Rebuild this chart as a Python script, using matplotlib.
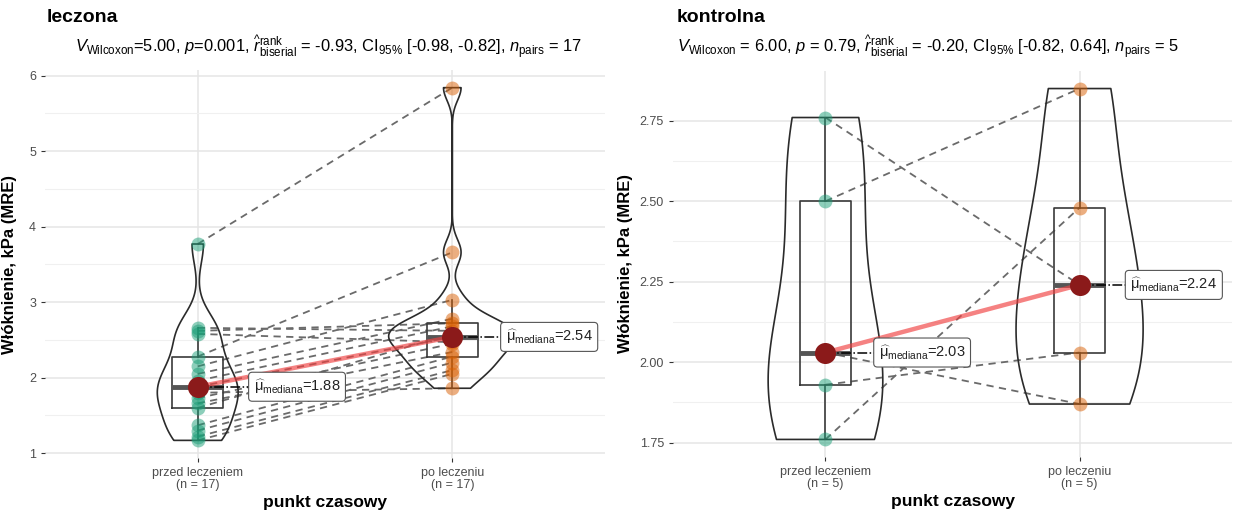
import numpy as np
import matplotlib
matplotlib.use("Agg")
import matplotlib.pyplot as plt

plt.rcParams["font.family"] = ["Liberation Sans", "DejaVu Sans"]
plt.rcParams["mathtext.fontset"] = "custom"
plt.rcParams["mathtext.rm"] = "Liberation Sans"
plt.rcParams["mathtext.it"] = "Liberation Sans:italic"
plt.rcParams["mathtext.bf"] = "Liberation Sans:bold"

# paired measurements (same patient order in both lists)
leczona_przed = [3.77, 2.66, 2.62, 2.58, 2.28, 2.15, 2.05, 1.96, 1.88,
                 1.80, 1.73, 1.66, 1.60, 1.37, 1.30, 1.22, 1.17]
leczona_po = [5.84, 2.62, 2.72, 2.47, 3.66, 3.03, 2.78, 2.68, 2.54,
              1.86, 2.45, 2.34, 2.58, 2.28, 2.20, 2.10, 2.05]

kontrolna_przed = [2.76, 2.50, 2.03, 1.93, 1.76]
kontrolna_po = [2.24, 2.85, 1.87, 2.03, 2.48]

time_points = ["przed leczeniem", "po leczeniu"]
titles = ["leczona", "kontrolna"]
subtitles = [
  r"$V_{\mathrm{Wilcoxon}}$=5.00, $p$=0.001, $\widehat{r}_{\mathrm{biserial}}^{\mathrm{rank}}$ = -0.93, "
  r"CI$_{95\%}$ [-0.98, -0.82], $n_{\mathrm{pairs}}$ = 17",
  r"$V_{\mathrm{Wilcoxon}}$ = 6.00, $p$ = 0.79, $\widehat{r}_{\mathrm{biserial}}^{\mathrm{rank}}$ = -0.20, "
  r"CI$_{95\%}$ [-0.82, 0.64], $n_{\mathrm{pairs}}$ = 5",
]
y_ticks = [[1, 2, 3, 4, 5, 6], [1.75, 2.00, 2.25, 2.50, 2.75]]
y_fmt = ["{:.0f}", "{:.2f}"]

COLORS = ["#1B9E77", "#D95F02"]
TEXT_GREY = "#4D4D4D"


def _nrd0(x: np.ndarray) -> float:
  sd = np.std(x, ddof=1)
  q75, q25 = np.percentile(x, [75, 25])
  lo = min(sd, (q75 - q25) / 1.34)
  return 0.9 * lo * len(x) ** -0.2


def _kde(x: np.ndarray, grid: np.ndarray) -> np.ndarray:
  bw = _nrd0(x)
  z = (grid[:, None] - x[None, :]) / bw
  return np.exp(-0.5 * z ** 2).sum(axis=1) / (len(x) * bw * np.sqrt(2 * np.pi))


def draw_panel(ax, before, after, ticks, fmt, label_offsets):
  groups = [np.asarray(before), np.asarray(after)]
  positions = [1, 2]

  # light grid like ggplot's minimal theme
  ax.set_axisbelow(True)
  for spine in ax.spines.values():
    spine.set_visible(False)
  ax.grid(True, which="major", color="#E5E5E5", lw=1.1)
  ax.grid(True, which="minor", axis="y", color="#F0F0F0", lw=0.8)
  ax.set_yticks(ticks)
  ax.set_yticks([(a + b) / 2 for a, b in zip(ticks[:-1], ticks[1:])], minor=True)
  ax.tick_params(axis="y", which="minor", length=0)
  ax.set_yticklabels([fmt.format(t) for t in ticks])
  ax.tick_params(axis="both", which="major", length=3, width=0.8, color="#333333",
                 labelcolor=TEXT_GREY, labelsize=9)

  # paired lines
  for b, a in zip(before, after):
    ax.plot(positions, [b, a], color="#6A6A6A", lw=1.3, ls=(0, (4, 3)), zorder=2)

  # violins, scaled by area across both groups
  grids = [np.linspace(g.min(), g.max(), 256) for g in groups]
  dens = [_kde(g, gr) for g, gr in zip(groups, grids)]
  dmax = max(d.max() for d in dens)
  for pos, gr, d in zip(positions, grids, dens):
    w = 0.25 * d / dmax
    ax.fill_betweenx(gr, pos - w, pos + w, facecolor="none", edgecolor="#2B2B2B",
                     lw=1.2, zorder=3)

  ax.boxplot(groups, positions=positions, widths=0.2, showfliers=False, showcaps=False,
             patch_artist=False, whis=1.5,
             boxprops=dict(color="#3A3A3A", lw=1.2),
             whiskerprops=dict(color="#3A3A3A", lw=1.2),
             medianprops=dict(color="#555555", lw=3.5),
             zorder=4)

  for pos, g, c in zip(positions, groups, COLORS):
    ax.scatter(np.full(len(g), pos), g, s=100, color=c, alpha=0.5, lw=0, zorder=5)

  medians = [float(np.median(g)) for g in groups]
  ax.plot(positions, medians, color="#F04040", alpha=0.65, lw=3.2, zorder=6,
          solid_capstyle="butt")
  ax.scatter(positions, medians, s=230, color="#8B1A1A", zorder=7, lw=0)

  for pos, m, off in zip(positions, medians, label_offsets):
    ax.plot([pos, pos + off], [m, m], color="black", lw=1.1, ls="-.", zorder=6)
    ax.text(pos + off, m, r"$\widehat{\mathrm{\mu}}_{\mathrm{mediana}}$" + "={:.2f}".format(m),
            ha="left", va="center", fontsize=10.5, color="#222222", zorder=8,
            bbox=dict(boxstyle="round,pad=0.35,rounding_size=0.25", fc="white",
                      ec="#555555", lw=0.8))

  ax.set_xlim(0.4, 2.6)
  ax.set_xticks(positions)
  ax.set_xticklabels([f"{name}\n(n = {len(g)})" for name, g in zip(time_points, groups)],
                     linespacing=1.0)

  lo = min(g.min() for g in groups)
  hi = max(g.max() for g in groups)
  pad = 0.05 * (hi - lo)
  ax.set_ylim(lo - pad, hi + pad)

  ax.set_xlabel("punkt czasowy", fontsize=12.5, fontweight="bold", color="black")
  ax.set_ylabel("Włóknienie, kPa (MRE)", fontsize=12, fontweight="bold", color="black")


fig = plt.figure(figsize=(12.36, 5.13), dpi=100)
ax_l = fig.add_axes([0.0364, 0.1072, 0.4531, 0.7563])
ax_r = fig.add_axes([0.5445, 0.1092, 0.4523, 0.7524])

draw_panel(ax_l, leczona_przed, leczona_po, y_ticks[0], y_fmt[0], [0.22, 0.21])
draw_panel(ax_r, kontrolna_przed, kontrolna_po, y_ticks[1], y_fmt[1], [0.21, 0.2])

ax_l.yaxis.set_label_coords(-0.05, 0.5)
ax_r.yaxis.set_label_coords(-0.072, 0.5)
ax_l.xaxis.set_label_coords(0.5, -0.095)
ax_r.xaxis.set_label_coords(0.5, -0.095)

fig.text(47 / 1236, 1 - 18 / 513, titles[0], fontsize=14, fontweight="bold", va="center")
fig.text(677 / 1236, 1 - 18 / 513, titles[1], fontsize=14, fontweight="bold", va="center")
fig.text(75 / 1236, 1 - 47 / 513, subtitles[0], fontsize=11.9, va="center")
fig.text(677 / 1236, 1 - 47 / 513, subtitles[1], fontsize=11.9, va="center")

fig.savefig("out.png", dpi=100, facecolor="white")
